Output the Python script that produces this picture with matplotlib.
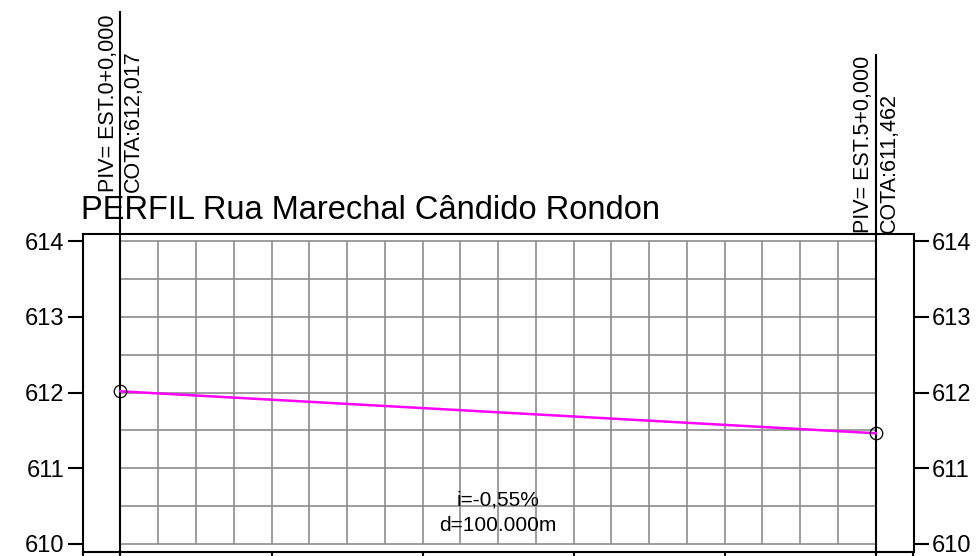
"""Perfil longitudinal: Rua Marechal Cândido Rondon."""

import matplotlib

matplotlib.use("Agg")

import matplotlib.pyplot as plt
import numpy as np

plt.rcParams["font.family"] = ["Liberation Sans", "DejaVu Sans"]

# --- data ---
title = "PERFIL Rua Marechal Cândido Rondon"
piv_station_m = [0.0, 100.0]
piv_elevation = [612.017, 611.462]
piv_labels = ["PIV= EST.0+0,000", "PIV= EST.5+0,000"]
cota_labels = ["COTA:612,017", "COTA:611,462"]
elev_ticks = [610, 611, 612, 613, 614]
stake_ticks = [0, 20, 40, 60, 80, 100]
grade_label = "i=-0,55%"
dist_label = "d=100.000m"

grid_x = np.arange(0, 101, 5)
grid_y = np.arange(610, 614.01, 0.5)

W, H = 976, 556
fig = plt.figure(figsize=(W / 100, H / 100), dpi=100)
left_px, right_px, top_px, bot_px = 82.7, 913.5, 234.0, 551.7
ax = fig.add_axes([left_px / W, 1 - bot_px / H,
                   (right_px - left_px) / W, (bot_px - top_px) / H])
ax.set_xlim(-5.0, 105.0)
ax.set_ylim(609.895, 614.098)

grid_c = "#8c8c8c"
ax.vlines(grid_x, 610, 614, colors=grid_c, lw=1.2, zorder=1)
ax.hlines(grid_y, 0, 100, colors=grid_c, lw=1.2, zorder=1)

# station verticals at the PIVs
line_tops = [617.03, 616.47]
for x, top in zip(piv_station_m, line_tops):
    ax.plot([x, x], [609.0, top], color="black", lw=1.5, clip_on=False, zorder=3)

# grade line
ax.plot(piv_station_m, piv_elevation, color="#7f9f7f", lw=0.8, zorder=4)
ax.plot(piv_station_m, piv_elevation, color="#ff00ff", lw=1.8, zorder=5)
ax.plot(piv_station_m, piv_elevation, ls="none", marker="o", ms=9,
        mfc="none", mec="black", mew=0.9, zorder=6, clip_on=False)

# vertical labels
label_bottoms = [614.66, 614.11]
for x, yb, piv, cota in zip(piv_station_m, label_bottoms, piv_labels, cota_labels):
    ax.text(x - 0.25, yb, piv, rotation=90, ha="right", va="bottom",
            fontsize=15.5, clip_on=False)
    ax.text(x + 0.35, yb, cota, rotation=90, ha="left", va="bottom",
            fontsize=15.5, clip_on=False)

ax.text(-5.2, 614.30, title, ha="left", va="baseline", fontsize=23.5)

mid = 0.5 * (piv_station_m[0] + piv_station_m[1])
ax.text(mid, 610.5, grade_label, ha="center", va="baseline", fontsize=15, zorder=7)
ax.text(mid, 610.17, dist_label, ha="center", va="baseline", fontsize=15, zorder=7)

for side in ("left", "right", "top", "bottom"):
    ax.spines[side].set_linewidth(1.5)
    ax.spines[side].set_color("black")

ax.set_yticks(elev_ticks)
ax.set_yticklabels([str(v) for v in elev_ticks])
ax.tick_params(axis="y", which="both", direction="out", length=11, width=1.5,
               labelsize=17, pad=2, left=True, right=True,
               labelleft=True, labelright=True)
ax.set_xticks([-5] + stake_ticks + [105])
ax.tick_params(axis="x", direction="out", length=10, width=1.5,
               labelbottom=False)

fig.savefig("out.png", dpi=100)
